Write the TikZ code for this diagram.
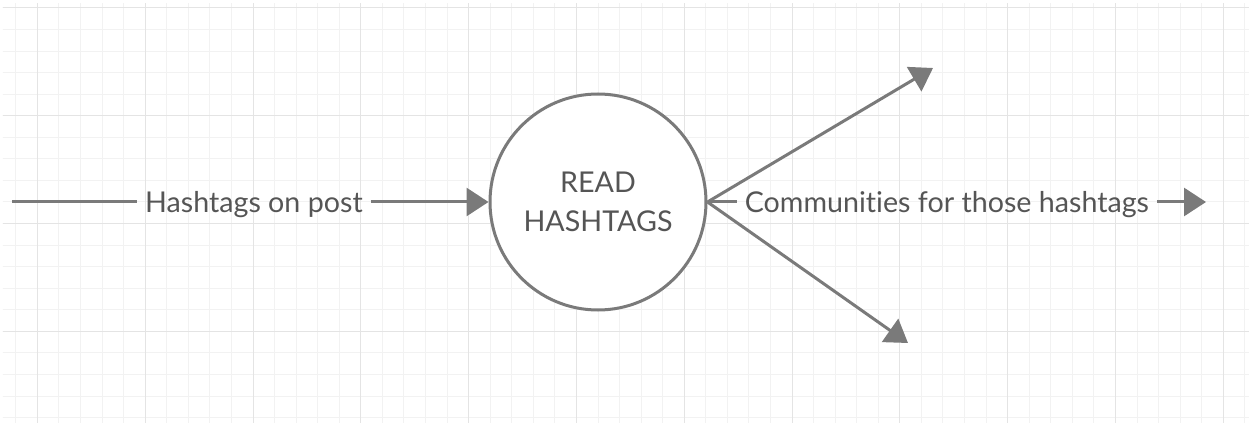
\documentclass[tikz,border=0pt]{standalone}
\usepackage{fontspec}
\setmainfont{Lato}[Ligatures=NoCommon]
\usetikzlibrary{arrows.meta}
\definecolor{linegray}{HTML}{7A7A7A}
\definecolor{textgray}{HTML}{555555}
\definecolor{minorgray}{HTML}{F2F2F2}
\definecolor{majorgray}{HTML}{E4E4E4}

\begin{document}
\begin{tikzpicture}[
		flow/.style={draw=linegray, line width=0.06cm},
		tip/.style={-{Triangle[length=0.44cm, width=0.56cm]}},
		lbl/.style={text=textgray, font=\fontsize{16.3}{22}\selectfont, inner sep=0.15cm},
	]
		\useasboundingbox (-11.96,-4.42) rectangle (13.02,4.04);

		% background grid
		\begin{scope}
			\clip (-11.9,-4.4) rectangle (13.02,3.96);
			\begin{scope}[shift={(1.7248,1.7248)}, line width=0.02cm]
				\draw[minorgray, step=0.4312] (-14,-7) grid (12,3);
				\draw[majorgray, step=2.156] (-14,-7) grid (12,3);
			\end{scope}
		\end{scope}

		\node[lbl, flow, circle, fill=white, minimum size=4.32cm, inner sep=0pt, align=center] (read) at (0,0) {READ\\HASHTAGS};

		\coordinate (src) at (-11.72,0);
		\node[lbl] (inlbl) at (-6.88,-0.05) {Hashtags on post};
		\node[lbl, anchor=west] (outlbl) at (2.78,-0.05) {Communities for those hashtags};
		\coordinate (sink) at (12.16,0);
		\coordinate (upper) at (6.7,2.68);
		\coordinate (lower) at (6.2,-2.82);

		\draw[flow] (src) -- (src -| inlbl.west);
		\draw[flow, tip] (inlbl.east |- read) -- (read);
		\draw[flow] (read) -- (read -| outlbl.west);
		\draw[flow, tip] (outlbl.east |- sink) -- (sink);

		\begin{scope}[flow, tip]
			\draw (read.east) -- (upper);
			\draw (read.east) -- (lower);
		\end{scope}

	\end{tikzpicture}
\end{document}
